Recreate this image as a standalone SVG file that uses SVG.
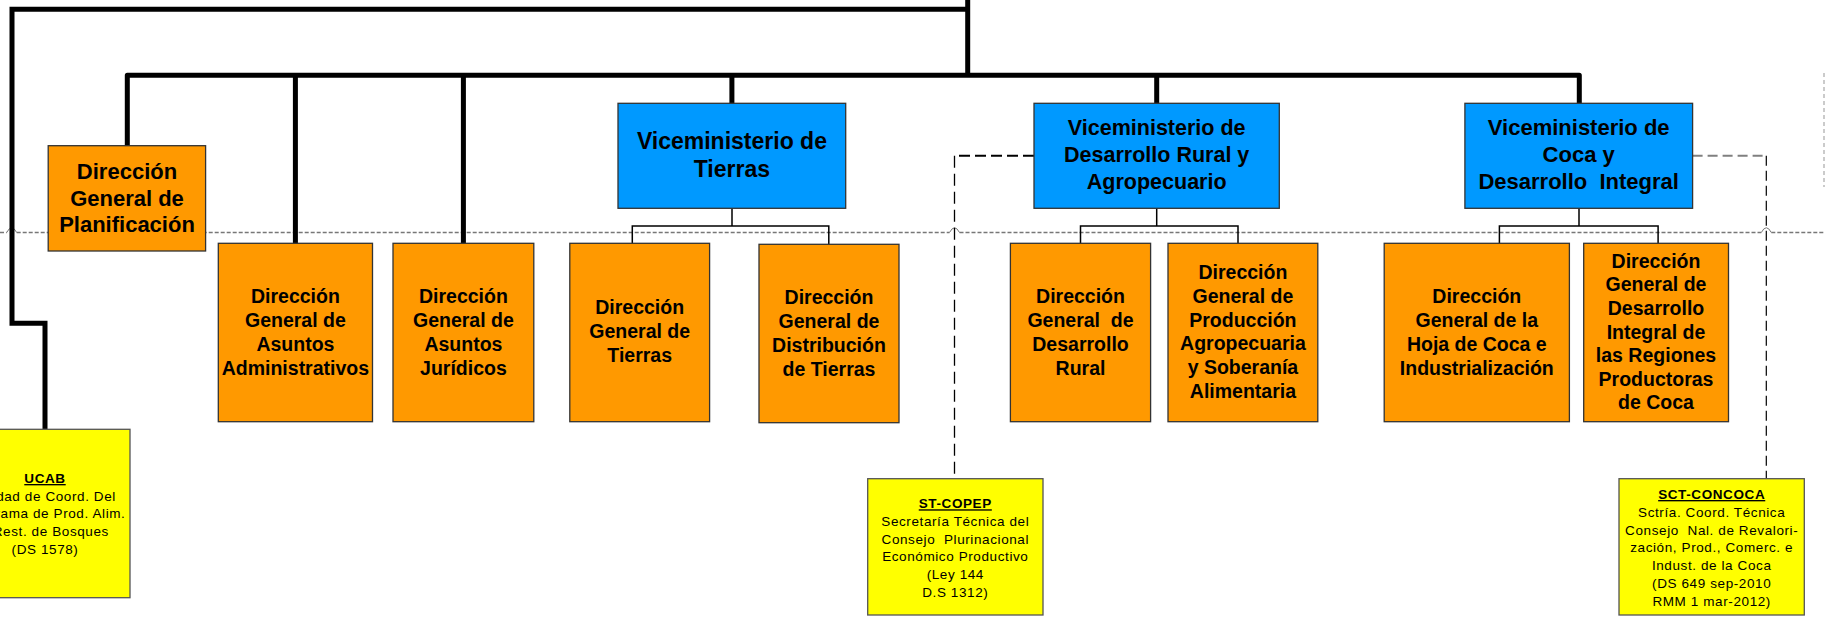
<svg xmlns="http://www.w3.org/2000/svg" width="1825" height="620" viewBox="0 0 1825 620">
<defs>
<style>
.bg{fill:#ffffff}
.or{fill:#FF9900;stroke:#333;stroke-width:1.3}
.bl{fill:#0099FF;stroke:#333;stroke-width:1.3}
.ye{fill:#FFFF00;stroke:#555;stroke-width:1.3}
.t{font-family:"Liberation Sans",Arial,sans-serif;font-weight:bold;fill:#000;text-anchor:middle;white-space:pre}
.t22{font-size:22px}
.t195{font-size:19.5px}
.vm{font-size:22px}
.ys{font-family:"Liberation Sans",Arial,sans-serif;font-size:13.5px;letter-spacing:0.6px;fill:#000;text-anchor:middle;white-space:pre}
.yh{font-weight:bold;text-decoration:underline}
.thick{fill:none;stroke:#000;stroke-width:5}
.thin{fill:none;stroke:#000;stroke-width:1.5}
.guide{fill:none;stroke:#777;stroke-width:1.3;stroke-dasharray:4 2}
.jump{fill:none;stroke:#777;stroke-width:1}
</style>
</defs>
<rect class="bg" x="0" y="0" width="1825" height="620"/>

<g id="guides">
<path class="guide" d="M0,232.5 H6.7 M16.7,232.5 H949.5 M959.5,232.5 H1761.3 M1771.3,232.5 H1825"/>
<path class="jump" d="M6.7,232.5 Q11.7,223 16.7,232.5 M949.5,232.5 Q954.5,223 959.5,232.5 M1761.3,232.5 Q1766.3,223 1771.3,232.5"/>
<path fill="none" stroke="#bbb" stroke-width="1.5" stroke-dasharray="4 3" d="M1824,73 V187"/>
</g>

<g id="connectors">
<path class="thick" stroke-linejoin="miter" d="M45,430 V323.3 H12 V9.3 H967.7"/>
<path class="thick" d="M967.7,0 V75.3"/>
<path class="thick" stroke-linejoin="round" d="M127.3,146 V75.3 H1579.3 V104"/>
<path class="thick" d="M295.4,75.3 V244 M463.4,75.3 V244 M731.9,75.3 V104 M1156.7,75.3 V104"/>
<path class="thin" d="M732,208.3 V226 M632.3,243.5 V226 H828.8 V244.5"/>
<path class="thin" d="M1156.7,208.3 V226 M1080.5,243.5 V226 H1238 V243.5"/>
<path class="thin" d="M1579,208.3 V226 M1499.4,243.5 V226 H1658.1 V243.5"/>
<path fill="none" stroke="#000" stroke-width="2" stroke-dasharray="11 5" d="M1034,155.7 H954.5"/>
<path fill="none" stroke="#000" stroke-width="1.3" stroke-dasharray="12 6" d="M954.5,155.7 V478.7"/>
<path fill="none" stroke="#808080" stroke-width="2" stroke-dasharray="10 5" d="M1692.6,155.7 H1766.3"/>
<path fill="none" stroke="#000" stroke-width="1.2" stroke-dasharray="10 5" d="M1766.3,155.7 V478.7"/>
</g>

<g id="n-planificacion">
<rect class="or" x="48.2" y="145.7" width="157.4" height="105.3"/>
<text class="t t22" x="127" y="179">Dirección</text>
<text class="t t22" x="127" y="205.7">General de</text>
<text class="t t22" x="127" y="231.7">Planificación</text>
</g>

<g id="n-administrativos">
<rect class="or" x="218.3" y="243.3" width="154.2" height="178.4"/>
<text class="t t195" x="295.4" y="302.7">Dirección</text>
<text class="t t195" x="295.4" y="326.7">General de</text>
<text class="t t195" x="295.4" y="351">Asuntos</text>
<text class="t t195" x="295.4" y="375">Administrativos</text>
</g>

<g id="n-juridicos">
<rect class="or" x="393" y="243.3" width="140.8" height="178.4"/>
<text class="t t195" x="463.4" y="302.7">Dirección</text>
<text class="t t195" x="463.4" y="326.7">General de</text>
<text class="t t195" x="463.4" y="351">Asuntos</text>
<text class="t t195" x="463.4" y="375">Jurídicos</text>
</g>

<g id="n-vm-tierras">
<rect class="bl" x="618" y="103.3" width="227.7" height="105"/>
<text class="t" style="font-size:23px" x="731.9" y="149">Viceministerio de</text>
<text class="t" style="font-size:23px" x="731.9" y="177.3">Tierras</text>
</g>

<g id="n-dg-tierras">
<rect class="or" x="569.8" y="243.3" width="139.8" height="178.4"/>
<text class="t t195" x="639.7" y="314.3">Dirección</text>
<text class="t t195" x="639.7" y="338.3">General de</text>
<text class="t t195" x="639.7" y="362.3">Tierras</text>
</g>

<g id="n-distribucion">
<rect class="or" x="759" y="244.3" width="140" height="178.4"/>
<text class="t t195" x="829" y="304">Dirección</text>
<text class="t t195" x="829" y="327.7">General de</text>
<text class="t t195" x="829" y="351.7">Distribución</text>
<text class="t t195" x="829" y="375.7">de Tierras</text>
</g>

<g id="n-vm-rural">
<rect class="bl" x="1034" y="103.3" width="245.3" height="105"/>
<text class="t" style="font-size:21.5px" x="1156.7" y="135">Viceministerio de</text>
<text class="t" style="font-size:21.5px" x="1156.7" y="162">Desarrollo Rural y</text>
<text class="t" style="font-size:21.5px" x="1156.7" y="189.3">Agropecuario</text>
</g>

<g id="n-dg-rural">
<rect class="or" x="1010.4" y="243.3" width="140.2" height="178.4"/>
<text class="t t195" x="1080.5" y="302.7">Dirección</text>
<text class="t t195" x="1080.5" y="326.7">General  de</text>
<text class="t t195" x="1080.5" y="351">Desarrollo</text>
<text class="t t195" x="1080.5" y="375">Rural</text>
</g>

<g id="n-produccion">
<rect class="or" x="1168" y="243.3" width="149.8" height="178.4"/>
<text class="t t195" x="1242.9" y="279.3">Dirección</text>
<text class="t t195" x="1242.9" y="303">General de</text>
<text class="t t195" x="1242.9" y="326.7">Producción</text>
<text class="t t195" x="1242.9" y="350.4">Agropecuaria</text>
<text class="t t195" x="1242.9" y="374.1">y Soberanía</text>
<text class="t t195" x="1242.9" y="397.8">Alimentaria</text>
</g>

<g id="n-vm-coca">
<rect class="bl" x="1464.9" y="103.3" width="227.7" height="105"/>
<text class="t vm" x="1578.7" y="135">Viceministerio de</text>
<text class="t vm" x="1578.7" y="162.3">Coca y</text>
<text class="t vm" x="1578.7" y="189.3">Desarrollo  Integral</text>
</g>

<g id="n-hoja-coca">
<rect class="or" x="1384.2" y="243.3" width="185.2" height="178.4"/>
<text class="t t195" x="1476.8" y="302.7">Dirección</text>
<text class="t t195" x="1476.8" y="326.7">General de la</text>
<text class="t t195" x="1476.8" y="351">Hoja de Coca e</text>
<text class="t t195" x="1476.8" y="375">Industrialización</text>
</g>

<g id="n-regiones">
<rect class="or" x="1583.7" y="243.3" width="144.8" height="178.4"/>
<text class="t t195" x="1656" y="267.7">Dirección</text>
<text class="t t195" x="1656" y="291.3">General de</text>
<text class="t t195" x="1656" y="314.9">Desarrollo</text>
<text class="t t195" x="1656" y="338.5">Integral de</text>
<text class="t t195" x="1656" y="362.1">las Regiones</text>
<text class="t t195" x="1656" y="385.7">Productoras</text>
<text class="t t195" x="1656" y="409.3">de Coca</text>
</g>

<g id="n-ucab">
<rect class="ye" x="-40" y="429.3" width="170" height="168.4"/>
<text class="ys yh" x="45" y="483">UCAB</text>
<text class="ys" x="45" y="500.7">Unidad de Coord. Del</text>
<text class="ys" x="45" y="518.3">Programa de Prod. Alim.</text>
<text class="ys" x="45" y="536">y Rest. de Bosques</text>
<text class="ys" x="45" y="554">(DS 1578)</text>
</g>

<g id="n-st-copep">
<rect class="ye" x="867.7" y="478.7" width="175.3" height="136.3"/>
<text class="ys yh" x="955.3" y="508.3">ST-COPEP</text>
<text class="ys" x="955.3" y="526">Secretaría Técnica del</text>
<text class="ys" x="955.3" y="544">Consejo  Plurinacional</text>
<text class="ys" x="955.3" y="561.3">Económico Productivo</text>
<text class="ys" x="955.3" y="579">(Ley 144</text>
<text class="ys" x="955.3" y="596.7">D.S 1312)</text>
</g>

<g id="n-sct-concoca">
<rect class="ye" x="1619" y="478.7" width="185.3" height="136.3"/>
<text class="ys yh" x="1711.7" y="499">SCT-CONCOCA</text>
<text class="ys" x="1711.7" y="516.7">Sctría. Coord. Técnica</text>
<text class="ys" x="1711.7" y="534.7">Consejo  Nal. de Revalori-</text>
<text class="ys" x="1711.7" y="552.3">zación, Prod., Comerc. e</text>
<text class="ys" x="1711.7" y="570">Indust. de la Coca</text>
<text class="ys" x="1711.7" y="587.7">(DS 649 sep-2010</text>
<text class="ys" x="1711.7" y="605.7">RMM 1 mar-2012)</text>
</g>
</svg>
